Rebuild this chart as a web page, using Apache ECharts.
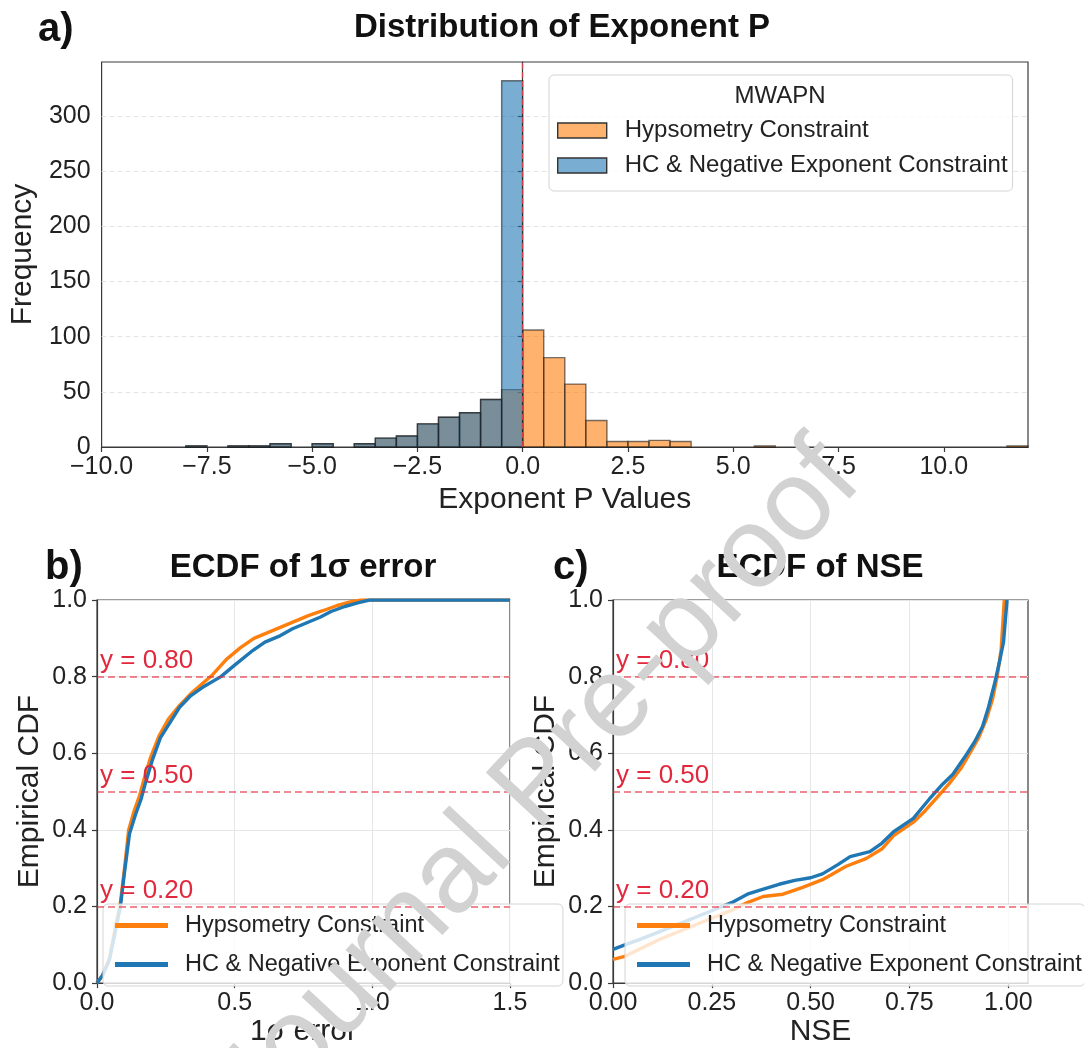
<!DOCTYPE html>
<html>
<head>
<meta charset="utf-8">
<script src="https://cdn.jsdelivr.net/npm/echarts@6/dist/echarts.min.js"></script>
<style>
  html, body { margin: 0; padding: 0; background: #ffffff; }
  #chart { width: 1084px; height: 1048px; }
</style>
</head>
<body>
<div id="chart"></div>
<script>
// ---- a) histogram of the fitted exponent P (bins of width 0.5, lower edges) ----
const pBinStarts = [-8.0, -7.5, -7.0, -6.5, -6.0, -5.5, -5.0, -4.5, -4.0, -3.5,
                    -3.0, -2.5, -2.0, -1.5, -1.0, -0.5, 0.0, 0.5, 1.0, 1.5,
                    2.0, 2.5, 3.0, 3.5, 4.0, 4.5, 5.0, 5.5, 6.0, 6.5,
                    7.0, 7.5, 8.0, 8.5, 9.0, 9.5, 10.0, 10.5, 11.0, 11.5];
const pCountsHypsometry = [1, 0, 1, 1, 3, 0, 3, 0, 3, 8,
                           10, 21, 27, 31, 43, 52, 106, 81, 57, 24,
                           5, 5, 6, 5, 0, 0, 0, 1, 0, 0,
                           0, 0, 0, 0, 0, 0, 0, 0, 0, 1];
const pCountsNegExp = [1, 0, 1, 1, 3, 0, 3, 0, 3, 8,
                       10, 21, 27, 31, 43, 332, 0, 0, 0, 0,
                       0, 0, 0, 0, 0, 0, 0, 0, 0, 0,
                       0, 0, 0, 0, 0, 0, 0, 0, 0, 0];
const pTickValues = [-10, -7.5, -5, -2.5, 0, 2.5, 5, 7.5, 10];
const freqTickValues = [0, 50, 100, 150, 200, 250, 300];

// ---- b) ECDF of the 1-sigma error ----
const errHypsoX = [0, 0.02, 0.045, 0.065, 0.085, 0.1, 0.115, 0.135, 0.155, 0.17, 0.195, 0.225, 0.26, 0.3,
                   0.34, 0.38, 0.42, 0.47, 0.52, 0.57, 0.62, 0.67, 0.72, 0.77, 0.82, 0.87, 0.92, 0.96, 1.5];
const errHypsoY = [0, 0.02, 0.065, 0.14, 0.21, 0.3, 0.4, 0.45, 0.49, 0.53, 0.59, 0.645, 0.69, 0.725,
                   0.755, 0.78, 0.805, 0.845, 0.875, 0.9, 0.915, 0.93, 0.945, 0.96, 0.972, 0.985, 0.995, 1.0, 1.0];
const errNegExpX = [0, 0.02, 0.045, 0.065, 0.085, 0.1, 0.118, 0.14, 0.16, 0.175, 0.2, 0.23, 0.265, 0.3,
                    0.34, 0.39, 0.45, 0.5, 0.56, 0.61, 0.66, 0.71, 0.76, 0.81, 0.85, 0.9, 0.95, 0.99, 1.5];
const errNegExpY = [0, 0.02, 0.06, 0.13, 0.2, 0.29, 0.39, 0.44, 0.48, 0.52, 0.58, 0.64, 0.68, 0.72,
                    0.75, 0.775, 0.8, 0.83, 0.865, 0.89, 0.905, 0.925, 0.94, 0.955, 0.97, 0.983, 0.993, 1.0, 1.0];

// ---- c) ECDF of NSE ----
const nseHypsoX = [0, 0.03, 0.07, 0.12, 0.18, 0.24, 0.3, 0.34, 0.38, 0.43, 0.48, 0.53, 0.59, 0.64,
                   0.68, 0.71, 0.76, 0.79, 0.82, 0.85, 0.88, 0.9, 0.925, 0.945, 0.96, 0.972, 0.982, 0.99];
const nseHypsoY = [0.062, 0.07, 0.09, 0.115, 0.14, 0.165, 0.19, 0.21, 0.226, 0.232, 0.25, 0.27, 0.305, 0.325,
                   0.35, 0.385, 0.42, 0.45, 0.485, 0.52, 0.56, 0.595, 0.64, 0.69, 0.74, 0.8, 0.87, 1.0];
const nseNegExpX = [0, 0.03, 0.07, 0.12, 0.18, 0.24, 0.3, 0.34, 0.37, 0.42, 0.46, 0.5, 0.53, 0.57, 0.6,
                    0.65, 0.68, 0.71, 0.76, 0.78, 0.8, 0.83, 0.86, 0.89, 0.915, 0.935, 0.95, 0.965, 0.978, 0.988, 0.997];
const nseNegExpY = [0.088, 0.1, 0.115, 0.135, 0.16, 0.185, 0.21, 0.232, 0.242, 0.258, 0.268, 0.275, 0.285, 0.31, 0.33,
                    0.343, 0.365, 0.395, 0.43, 0.455, 0.48, 0.515, 0.545, 0.59, 0.63, 0.67, 0.72, 0.78, 0.84, 0.89, 1.0];
const nseTickValues = [0, 0.25, 0.5, 0.75, 1.0];

// reference levels drawn across both ECDF panels
const refLevels = [0.8, 0.5, 0.2];

const NAME_HYPSO = 'Hypsometry Constraint';
const NAME_NEG = 'HC & Negative Exponent Constraint';

const FONT = "'Liberation Sans', Arial, Helvetica, sans-serif";
const ORANGE = '#ff7f0e';
const BLUE = '#1f77b4';
const ORANGE_PATCH = '#ffb26e';
const BLUE_PATCH = '#79add2';
const INK = '#1a1a1a';
const BIN_WIDTH = 0.5;

const zip = (xs, ys) => xs.map((x, i) => [x, ys[i]]);
const minusSign = s => s.replace('-', '\u2212');

// one rectangle per histogram bin, placed through the axis scales
function histRenderer(fill) {
  return function (params, api) {
    const x0 = api.value(0);
    const n = api.value(1);
    if (!n) return null;
    const topLeft = api.coord([x0, n]);
    const bottomRight = api.coord([x0 + BIN_WIDTH, 0]);
    return {
      type: 'rect',
      shape: {
        x: topLeft[0], y: topLeft[1],
        width: bottomRight[0] - topLeft[0],
        height: bottomRight[1] - topLeft[1]
      },
      style: { fill: fill, stroke: INK, lineWidth: 1.4, opacity: 0.6 }
    };
  };
}

const tickFont = { fontFamily: FONT, fontSize: 25, color: '#222' };
const nameFont = { fontFamily: FONT, fontSize: 30, color: '#222' };
const axisLine = { show: true, lineStyle: { color: '#3a3a3a', width: 1.2 } };
const axisTick = { show: true, length: 5, lineStyle: { color: '#3a3a3a', width: 1.2 } };
const softGrid = { show: true, lineStyle: { color: '#e6e6e6', width: 1 } };

const refMarkLine = {
  silent: true,
  symbol: 'none',
  animation: false,
  lineStyle: { color: 'rgba(228, 45, 60, 0.75)', type: [7, 4], width: 1.6 },
  label: {
    position: 'insideStartTop',
    distance: [3, 3],
    formatter: p => 'y = ' + p.value.toFixed(2),
    color: '#e2283c',
    fontFamily: FONT,
    fontSize: 26
  },
  data: refLevels.map(v => ({ yAxis: v }))
};

function lineLegend(left) {
  return {
    left: left, top: 904,
    orient: 'vertical',
    padding: [8, 3, 8, 12],
    itemGap: 12,
    itemWidth: 53,
    itemHeight: 5,
    selectedMode: false,
    backgroundColor: 'rgba(255,255,255,0.8)',
    borderColor: '#d4d4d4',
    borderWidth: 1,
    borderRadius: 5,
    textStyle: { fontFamily: FONT, fontSize: 23.5, color: '#222', lineHeight: 27, padding: [0, 0, 0, 12] },
    data: [
      { name: NAME_HYPSO, icon: 'rect', itemStyle: { color: ORANGE } },
      { name: NAME_NEG, icon: 'rect', itemStyle: { color: BLUE } }
    ]
  };
}

function ecdfLine(name, color, data, axisIdx, withRefs) {
  const s = {
    type: 'line',
    name: name,
    xAxisIndex: axisIdx,
    yAxisIndex: axisIdx,
    data: data,
    showSymbol: false,
    symbol: 'none',
    color: color,
    lineStyle: { color: color, width: 3.4 },
    z: 3
  };
  if (withRefs) s.markLine = refMarkLine;
  return s;
}

const option = {
  animation: false,
  backgroundColor: '#ffffff',
  grid: [
    { left: 96, top: 62, width: 932, height: 385, show: true, borderColor: '#3a3a3a', borderWidth: 1.2 },
    { left: 97, top: 600, width: 413, height: 400, show: true, borderColor: '#3a3a3a', borderWidth: 1.2 },
    { left: 613, top: 600, width: 415, height: 400, show: true, borderColor: '#3a3a3a', borderWidth: 1.2 }
  ],
  xAxis: [
    {
      gridIndex: 0, type: 'value', min: -10, max: 12, interval: 2.5,
      name: 'Exponent P Values', nameLocation: 'middle', nameGap: 38, nameTextStyle: nameFont,
      axisLine: axisLine, axisTick: Object.assign({ customValues: pTickValues }, axisTick),
      axisLabel: Object.assign({ customValues: pTickValues, margin: 8, formatter: v => minusSign(v.toFixed(1)) }, tickFont),
      splitLine: { show: false }
    },
    {
      gridIndex: 1, type: 'value', min: 0, max: 1.5, interval: 0.5,
      name: '1\u03c3 error', nameLocation: 'middle', nameGap: 30, nameTextStyle: nameFont,
      axisLine: axisLine, axisTick: axisTick,
      axisLabel: Object.assign({ margin: 8, formatter: v => v.toFixed(1) }, tickFont),
      splitLine: softGrid
    },
    {
      gridIndex: 2, type: 'value', min: 0, max: 1.05, interval: 0.25,
      name: 'NSE', nameLocation: 'middle', nameGap: 30, nameTextStyle: nameFont,
      axisLine: axisLine, axisTick: Object.assign({ customValues: nseTickValues }, axisTick),
      axisLabel: Object.assign({ customValues: nseTickValues, margin: 8, formatter: v => v.toFixed(2) }, tickFont),
      splitLine: softGrid
    }
  ],
  yAxis: [
    {
      gridIndex: 0, type: 'value', min: 0, max: 349, interval: 50,
      name: 'Frequency', nameLocation: 'middle', nameGap: 56, nameTextStyle: nameFont,
      axisLine: axisLine, axisTick: Object.assign({ customValues: freqTickValues }, axisTick),
      axisLabel: Object.assign({ customValues: freqTickValues, margin: 11 }, tickFont),
      splitLine: { show: true, lineStyle: { color: '#e4e4e4', width: 1, type: [5, 3] } }
    },
    {
      gridIndex: 1, type: 'value', min: 0, max: 1, interval: 0.2,
      name: 'Empirical CDF', nameLocation: 'middle', nameGap: 52, nameTextStyle: nameFont,
      axisLine: axisLine, axisTick: axisTick,
      axisLabel: Object.assign({ margin: 10, formatter: v => v.toFixed(1) }, tickFont),
      splitLine: softGrid
    },
    {
      gridIndex: 2, type: 'value', min: 0, max: 1, interval: 0.2,
      name: 'Empirical CDF', nameLocation: 'middle', nameGap: 52, nameTextStyle: nameFont,
      axisLine: axisLine, axisTick: axisTick,
      axisLabel: Object.assign({ margin: 10, formatter: v => v.toFixed(1) }, tickFont),
      splitLine: softGrid
    }
  ],
  legend: [
    {
      left: 549, top: 75,
      orient: 'vertical',
      padding: [42, 5, 12, 8],
      itemGap: 8,
      itemWidth: 49,
      itemHeight: 15,
      selectedMode: false,
      backgroundColor: 'rgba(255,255,255,0.8)',
      borderColor: '#d4d4d4',
      borderWidth: 1,
      borderRadius: 5,
      textStyle: { fontFamily: FONT, fontSize: 24, color: '#222', lineHeight: 27, padding: [0, 0, 0, 13] },
      data: [
        { name: NAME_HYPSO, icon: 'rect', itemStyle: { color: ORANGE_PATCH, borderColor: '#333', borderWidth: 1.4 } },
        { name: NAME_NEG, icon: 'rect', itemStyle: { color: BLUE_PATCH, borderColor: '#333', borderWidth: 1.4 } }
      ]
    },
    lineLegend(103),
    lineLegend(625)
  ],
  series: [
    {
      type: 'custom', name: NAME_HYPSO, xAxisIndex: 0, yAxisIndex: 0,
      renderItem: histRenderer(ORANGE), itemStyle: { color: ORANGE_PATCH },
      encode: { x: 0, y: 1 },
      data: zip(pBinStarts, pCountsHypsometry)
    },
    {
      type: 'custom', name: NAME_NEG, xAxisIndex: 0, yAxisIndex: 0,
      renderItem: histRenderer(BLUE), itemStyle: { color: BLUE_PATCH },
      encode: { x: 0, y: 1 },
      data: zip(pBinStarts, pCountsNegExp),
      markLine: {
        silent: true, symbol: 'none', animation: false,
        lineStyle: { color: 'rgba(235, 70, 80, 0.8)', type: [6, 3], width: 1.4 },
        label: { show: false },
        data: [{ xAxis: 0 }]
      }
    },
    ecdfLine(NAME_HYPSO, ORANGE, zip(errHypsoX, errHypsoY), 1, true),
    ecdfLine(NAME_NEG, BLUE, zip(errNegExpX, errNegExpY), 1, false),
    ecdfLine(NAME_HYPSO, ORANGE, zip(nseHypsoX, nseHypsoY), 2, true),
    ecdfLine(NAME_NEG, BLUE, zip(nseNegExpX, nseNegExpY), 2, false)
  ],
  graphic: [
    { type: 'text', x: 38, y: 30, z: 10, style: { text: 'a)', font: "bold 40px " + FONT, fill: '#111', verticalAlign: 'middle' } },
    { type: 'text', x: 562, y: 28, z: 10, style: { text: 'Distribution of Exponent P', font: "bold 33px " + FONT, fill: '#111', align: 'center', verticalAlign: 'middle' } },
    { type: 'text', x: 780, y: 96, z: 10, style: { text: 'MWAPN', font: "24px " + FONT, fill: '#222', align: 'center', verticalAlign: 'middle' } },
    { type: 'text', x: 45, y: 568, z: 10, style: { text: 'b)', font: "bold 40px " + FONT, fill: '#111', verticalAlign: 'middle' } },
    { type: 'text', x: 303, y: 568, z: 10, style: { text: 'ECDF of 1\u03c3 error', font: "bold 33px " + FONT, fill: '#111', align: 'center', verticalAlign: 'middle' } },
    { type: 'text', x: 553, y: 568, z: 10, style: { text: 'c)', font: "bold 40px " + FONT, fill: '#111', verticalAlign: 'middle' } },
    { type: 'text', x: 820, y: 568, z: 10, style: { text: 'ECDF of NSE', font: "bold 33px " + FONT, fill: '#111', align: 'center', verticalAlign: 'middle' } },
    {
      type: 'text', x: 538, y: 786, rotation: 47 * Math.PI / 180, z: 100, silent: true,
      style: { text: 'Journal Pre-proof', font: "115px " + FONT, fill: '#d2d2d2', align: 'center', verticalAlign: 'middle' }
    }
  ]
};

const chart = echarts.init(document.getElementById('chart'), null, { renderer: 'canvas' });
chart.setOption(option);
</script>
</body>
</html>
